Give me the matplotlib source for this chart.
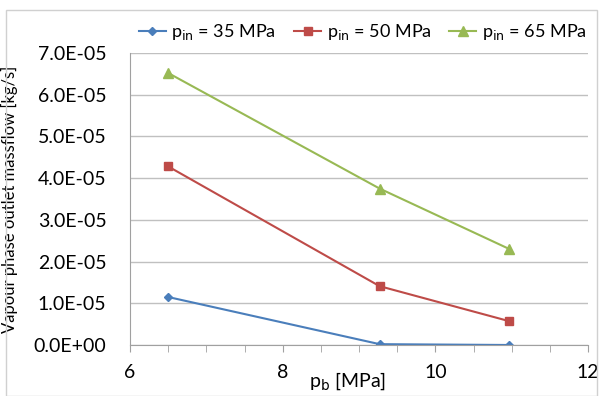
from matplotlib import pyplot as plt
from matplotlib.patches import Rectangle
from matplotlib.ticker import MultipleLocator, FuncFormatter

plt.rcParams['font.family'] = ['Lato', 'DejaVu Sans']

# datos
p_b = [6.5, 9.27, 10.97]
m_35 = [1.15e-5, 0.02e-5, 0.0]
m_50 = [4.28e-5, 1.41e-5, 0.57e-5]
m_65 = [6.52e-5, 3.75e-5, 2.30e-5]

labels = [r'p$_{\mathrm{in}}$ = 35 MPa', r'p$_{\mathrm{in}}$ = 50 MPa',
          r'p$_{\mathrm{in}}$ = 65 MPa']
colors = ['#4a7ebb', '#be4b48', '#98b954']
markers = ['D', 's', '^']
msizes = [4, 6, 7]

fig = plt.figure(figsize=(6, 3.96), dpi=100)
ax = fig.add_axes([0.2167, 0.1288, 0.7633, 0.7374])

for y, lab, c, m, ms in zip([m_35, m_50, m_65], labels, colors, markers, msizes):
    ax.plot(p_b, y, color=c, marker=m, markersize=ms, linewidth=1.5, label=lab)

ax.set_xlim(6, 12)
ax.set_ylim(0, 7e-5)
ax.xaxis.set_major_locator(MultipleLocator(2))
ax.xaxis.set_minor_locator(MultipleLocator(0.5))
ax.yaxis.set_major_locator(MultipleLocator(1e-5))
ax.yaxis.set_major_formatter(FuncFormatter(lambda v, p: '%.1E' % v))

ax.grid(True, axis='y', color='#c0c0c0', linewidth=1)
ax.set_axisbelow(True)
for s in ['top', 'right']:
    ax.spines[s].set_visible(False)
for s in ['left', 'bottom']:
    ax.spines[s].set_color('#a0a0a0')
ax.tick_params(axis='x', which='both', direction='out', length=5, color='#a0a0a0',
               labelsize=14, pad=9)
ax.tick_params(axis='y', length=0, labelsize=14, pad=17)

ax.text(0.39, -0.125, r'p$_{\mathrm{b}}$ [MPa]', transform=ax.transAxes, fontsize=14,
        ha='left', va='center')
ax.set_ylabel('Vapour phase outlet massflow [kg/s]', fontsize=12)
ax.yaxis.set_label_coords(-0.245, 0.5)

ax.legend(loc='lower center', bbox_to_anchor=(0.508, 1.0), ncol=3, frameon=False,
          fontsize=13, handlelength=1.5, handletextpad=0.3, columnspacing=1.0,
          borderaxespad=0.2)

fig.patches.append(Rectangle((0.01, 0.0), 0.985, 0.975, transform=fig.transFigure,
                             fill=False, edgecolor='#d0d0d0', linewidth=1))

fig.savefig('out.png')
